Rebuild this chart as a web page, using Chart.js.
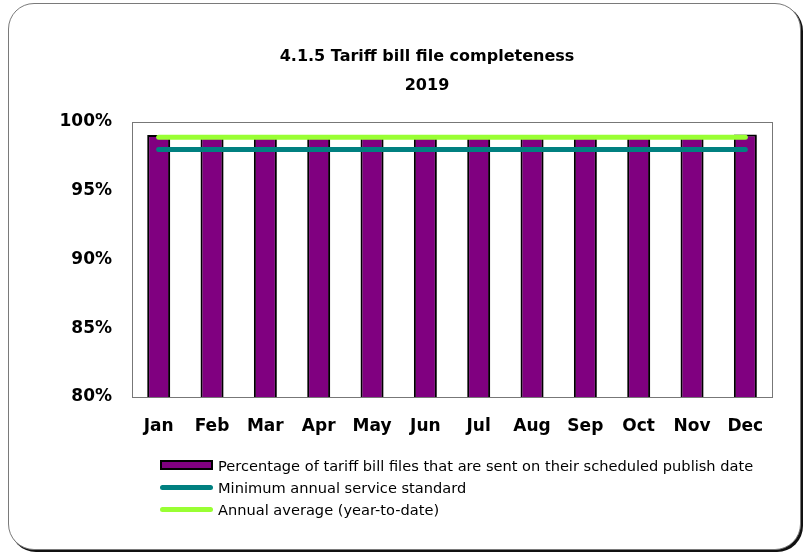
<!DOCTYPE html>
<html>
<head>
<meta charset="utf-8">
<script src="https://cdn.jsdelivr.net/npm/chart.js@4"></script>
<style>
html,body{margin:0;padding:0;background:#fff;}
#wrap{position:relative;width:807px;height:556px;overflow:hidden;background:#fff;}
#card{position:absolute;left:8px;top:3px;width:791px;height:545px;border:1px solid #7a7a7a;border-radius:26px;box-shadow:2px 2px 0 #111;background:#fff;}
#chart{position:absolute;left:0;top:0;}
#title{position:absolute;left:227px;top:41px;width:400px;text-align:center;font-family:"DejaVu Sans";font-weight:bold;font-size:16px;line-height:29px;color:#000;}
#legend{position:absolute;left:160px;top:454px;font-family:"DejaVu Sans";font-size:14.6px;color:#000;}
.item{display:flex;align-items:center;height:22px;}
.sw{width:53px;margin-right:5px;box-sizing:border-box;}
</style>
</head>
<body>
<div id="wrap">
  <div id="card"></div>
  <canvas id="chart" width="807" height="556"></canvas>
  <div id="title"></div>
  <div id="legend"></div>
</div>
<script>
const titleLines = ['4.1.5 Tariff bill file completeness', '2019'];
const months = ['Jan','Feb','Mar','Apr','May','Jun','Jul','Aug','Sep','Oct','Nov','Dec'];
const completeness = [99.05, 99.0, 99.0, 99.0, 99.0, 99.0, 99.0, 99.0, 99.0, 99.0, 99.0, 99.1];
const minStandard = [98.0, 98.0, 98.0, 98.0, 98.0, 98.0, 98.0, 98.0, 98.0, 98.0, 98.0, 98.0];
const annualAverage = [98.9, 98.9, 98.9, 98.9, 98.9, 98.9, 98.9, 98.9, 98.9, 98.9, 98.9, 98.9];
const yTicks = [80, 85, 90, 95, 100];
const seriesLabels = [
  'Percentage of tariff bill files that are sent on their scheduled publish date',
  'Minimum annual service standard',
  'Annual average (year-to-date)'
];

document.getElementById('title').innerHTML = titleLines.join('<br>');

const plotBorder = {
  id: 'plotBorder',
  afterDraw(chart) {
    const a = chart.chartArea, ctx = chart.ctx;
    ctx.save();
    ctx.strokeStyle = '#777';
    ctx.lineWidth = 1;
    ctx.strokeRect(Math.round(a.left) + 0.5, Math.round(a.top) + 0.5, Math.round(a.right - a.left), Math.round(a.bottom - a.top));
    ctx.restore();
  }
};
const barShadow = {
  id: 'barShadow',
  beforeDatasetDraw(chart, args) {
    if (args.meta.type === 'bar') {
      const ctx = chart.ctx;
      ctx.save();
      ctx.shadowColor = 'rgba(0,0,0,0.35)';
      ctx.shadowOffsetX = 2;
      ctx.shadowOffsetY = 1;
      ctx.shadowBlur = 0;
    }
  },
  afterDatasetDraw(chart, args) {
    if (args.meta.type === 'bar') chart.ctx.restore();
  }
};

const tickFont = {family: 'DejaVu Sans', size: 17, weight: 'bold'};

const chart = new Chart(document.getElementById('chart'), {
  data: {
    labels: months,
    datasets: [
      {type: 'bar', label: seriesLabels[0], data: completeness, backgroundColor: '#800080', borderColor: '#000', borderWidth: 2, order: 3, categoryPercentage: 1, barPercentage: 0.43, borderSkipped: false},
      {type: 'line', label: seriesLabels[1], data: minStandard, borderColor: '#008080', backgroundColor: '#008080', borderWidth: 5, pointRadius: 0, borderCapStyle: 'round', order: 1},
      {type: 'line', label: seriesLabels[2], data: annualAverage, borderColor: '#99FF33', backgroundColor: '#99FF33', borderWidth: 5, pointRadius: 0, borderCapStyle: 'round', order: 0}
    ]
  },
  options: {
    responsive: false,
    animation: false,
    layout: {padding: {left: 0, right: 35, top: 122, bottom: 109}},
    plugins: {legend: {display: false}, title: {display: false}, tooltip: {enabled: false}},
    scales: {
      x: {
        grid: {display: false, drawTicks: false},
        border: {display: false},
        ticks: {font: tickFont, color: '#000', padding: 19, maxRotation: 0},
        afterFit(s) { s.height = 50; }
      },
      y: {
        min: 80, max: 100,
        grid: {display: false, drawTicks: false},
        border: {display: false},
        afterBuildTicks(s) { s.ticks = yTicks.map(v => ({value: v})); },
        ticks: {font: tickFont, color: '#000', padding: 20, callback: v => v + '%'},
        afterFit(s) { s.width = 132; }
      }
    }
  },
  plugins: [barShadow, plotBorder]
});

// HTML legend built from datasets
const legend = document.getElementById('legend');
chart.data.datasets.forEach(ds => {
  const item = document.createElement('div');
  item.className = 'item';
  const sw = document.createElement('div');
  sw.className = 'sw';
  if (ds.type === 'bar') {
    sw.style.height = '10px';
    sw.style.background = ds.backgroundColor;
    sw.style.border = '2px solid #000';
  } else {
    sw.style.height = '5px';
    sw.style.background = ds.borderColor;
    sw.style.borderRadius = '3px';
  }
  const t = document.createElement('span');
  t.textContent = ds.label;
  item.appendChild(sw);
  item.appendChild(t);
  legend.appendChild(item);
});
</script>
</body>
</html>
